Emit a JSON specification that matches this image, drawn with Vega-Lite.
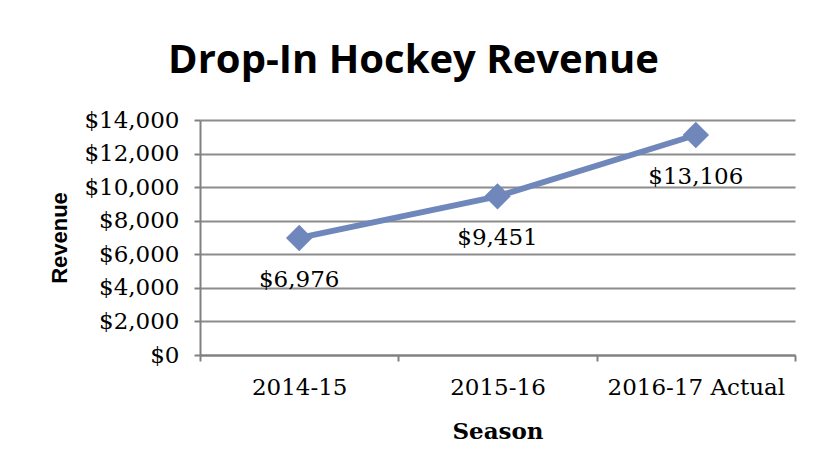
{
  "$schema": "https://vega.github.io/schema/vega-lite/v6.json",
  "autosize": "none",
  "width": 595,
  "height": 235,
  "padding": {"left": 200, "top": 120, "right": 19, "bottom": 120},
  "background": "white",
  "title": {
    "text": "Drop-In Hockey Revenue",
    "font": "Open Sans",
    "fontWeight": "bold",
    "fontSize": 40,
    "color": "black",
    "anchor": "middle",
    "dx": -84,
    "offset": 28
  },
  "data": {
    "values": [
      {"Season": "2014-15", "Revenue": 6976, "Label": "$6,976"},
      {"Season": "2015-16", "Revenue": 9451, "Label": "$9,451"},
      {"Season": "2016-17 Actual", "Revenue": 13106, "Label": "$13,106"}
    ]
  },
  "encoding": {
    "x": {
      "field": "Season",
      "type": "nominal",
      "sort": null,
      "scale": {"paddingInner": 0, "paddingOuter": 0},
      "axis": {
        "title": "Season",
        "labelAngle": 0,
        "labelFont": "DejaVu Serif",
        "labelFontSize": 23,
        "labelColor": "black",
        "labelPadding": 15,
        "titleFont": "DejaVu Serif",
        "titleFontSize": 23,
        "titleFontWeight": "bold",
        "titleColor": "black",
        "titlePadding": 21,
        "domainColor": "#808080",
        "domainWidth": 2,
        "tickColor": "#808080",
        "tickWidth": 2,
        "tickSize": 6,
        "tickBand": "extent",
        "grid": false
      }
    },
    "y": {
      "field": "Revenue",
      "type": "quantitative",
      "scale": {"domain": [0, 14000]},
      "axis": {
        "title": "Revenue",
        "values": [0, 2000, 4000, 6000, 8000, 10000, 12000, 14000],
        "format": "$,.0f",
        "labelFont": "DejaVu Serif",
        "labelFontSize": 23,
        "labelColor": "black",
        "labelPadding": 15,
        "titleFont": "Liberation Sans",
        "titleFontSize": 22,
        "titleFontWeight": "bold",
        "titleColor": "black",
        "titlePadding": 12,
        "domainColor": "#808080",
        "domainWidth": 2,
        "tickColor": "#808080",
        "tickWidth": 2,
        "tickSize": 6,
        "grid": true,
        "gridColor": "#8c8c8c",
        "gridWidth": 2
      }
    }
  },
  "layer": [
    {
      "mark": {"type": "line", "color": "#6F87BB", "strokeWidth": 6}
    },
    {
      "mark": {"type": "point", "shape": "diamond", "filled": true, "opacity": 1, "color": "#6F87BB", "size": 700}
    },
    {
      "mark": {"type": "text", "font": "DejaVu Serif", "fontSize": 23, "color": "black", "dy": 42},
      "encoding": {"text": {"field": "Label"}}
    }
  ],
  "config": {"view": {"stroke": null}}
}
